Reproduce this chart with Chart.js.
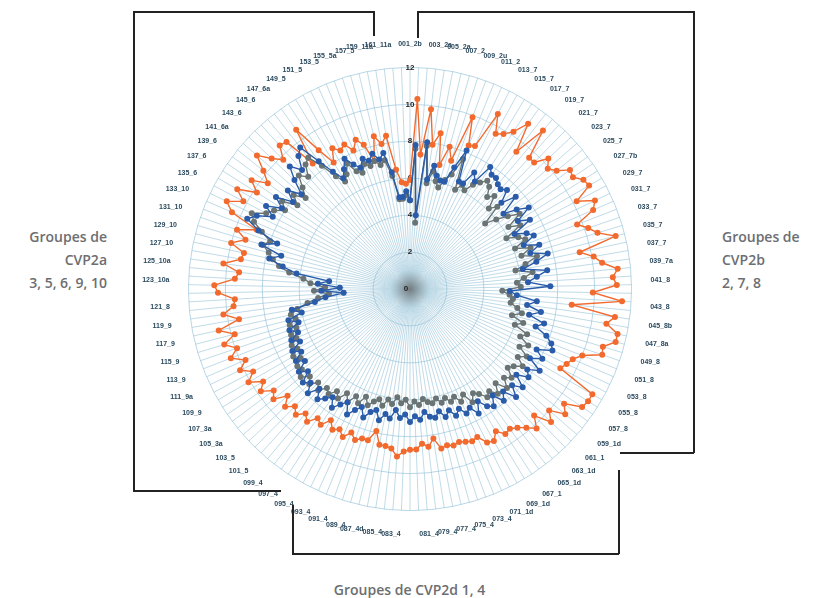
<!DOCTYPE html>
<html>
<head>
<meta charset="utf-8">
<script src="https://cdn.jsdelivr.net/npm/chart.js@4"></script>
<style>
  html, body { margin:0; padding:0; background:#fff; }
  body { width:819px; height:598px; position:relative; overflow:hidden; font-family:"Open Sans", sans-serif; }
  #wrap { position:absolute; left:110px; top:40px; width:600px; height:498px; }
  .ln { position:absolute; background:#222; }
  .txt { position:absolute; color:#6d6e71; font-size:14px; font-weight:600; line-height:23px; }
</style>
</head>
<body>
<div id="wrap"><canvas id="c" width="600" height="498"></canvas></div>

<!-- left bracket -->
<div class="ln" style="left:133px;top:11px;width:241px;height:1.5px"></div>
<div class="ln" style="left:373px;top:11px;width:1.5px;height:25px"></div>
<div class="ln" style="left:133px;top:11px;width:1.5px;height:480px"></div>
<div class="ln" style="left:133px;top:490px;width:148px;height:1.5px"></div>
<!-- right bracket -->
<div class="ln" style="left:417px;top:11px;width:277px;height:1.5px"></div>
<div class="ln" style="left:417px;top:11px;width:1.5px;height:27px"></div>
<div class="ln" style="left:693px;top:11px;width:1.5px;height:442px"></div>
<div class="ln" style="left:620px;top:452px;width:74px;height:1.5px"></div>
<!-- bottom bracket -->
<div class="ln" style="left:292px;top:505px;width:1.5px;height:49px"></div>
<div class="ln" style="left:292px;top:553px;width:327px;height:1.5px"></div>
<div class="ln" style="left:618px;top:470px;width:1.5px;height:84px"></div>

<div class="txt" style="right:712px;top:225px;text-align:right">Groupes de<br>CVP2a<br>3, 5, 6, 9, 10</div>
<div class="txt" style="left:722px;top:225px;text-align:left">Groupes de<br>CVP2b<br>2, 7, 8</div>
<div class="txt" style="left:0;width:819px;top:578px;text-align:center">Groupes de CVP2d 1, 4</div>

<script>
const categories = [
 "001_2b","003_2a","005_2a","007_2","009_2u","011_2","013_7","015_7","017_7","019_7",
 "021_7","023_7","025_7","027_7b","029_7","031_7","033_7","035_7","037_7","039_7a",
 "041_8","043_8","045_8b","047_8a","049_8","051_8","053_8","055_8","057_8","059_1d",
 "061_1","063_1d","065_1d","067_1","069_1d","071_1d","073_4","075_4","077_4","079_4",
 "081_4","083_4","085_4","087_4d","089_4","091_4","093_4","095_4","097_4","099_4",
 "101_5","103_5","105_3a","107_3a","109_9","111_9a","113_9","115_9","117_9","119_9",
 "121_8","123_10a","125_10a","127_10","129_10","131_10","133_10","135_6","137_6","139_6",
 "141_6a","143_6","145_6","147_6a","149_5","151_5","153_5","155_5a","157_5","159_11a",
 "161_11a"
];

const orangeValues = [
 5.9,10.3,7.3,9.8,7.9,8.6,6.9,8.0,7.3,9.9,
 8.4,8.5,10.6,9.6,9.8,10.2,11.0,9.4,11.2,9.6,
 9.6,10.3,9.9,10.2,10.8,10.7,11.1,11.2,10.2,11.1,
 10.8,9.7,10.2,10.6,11.5,9.4,10.1,10.5,11.3,11.0,
 11.2,9.9,11.5,8.8,11.2,10.8,11.5,11.5,10.9,11.0,
 10.0,9.6,9.4,9.2,11.4,11.4,11.3,10.4,10.8,10.0,
 10.5,9.6,10.2,9.8,9.5,9.3,9.4,9.0,9.4,9.3,
 8.8,8.9,8.8,8.7,8.8,8.7,8.8,8.2,8.6,8.4,
 8.7,8.7,8.8,9.1,8.7,8.6,8.6,7.9,8.5,8.5,
 8.7,8.4,8.8,8.5,8.7,8.3,8.8,8.6,9.1,8.8,
 9.2,8.9,9.3,8.8,9.5,9.2,9.8,9.4,10.1,9.6,
 10.2,9.7,10.4,9.9,10.5,9.8,10.6,9.4,10.2,9.6,
 9.5,10.4,10.6,9.5,9.3,10.2,9.3,9.2,10.0,9.3,
 9.9,8.9,10.5,11.0,10.2,10.8,9.8,10.4,9.6,10.2,
 11.0,10.3,9.8,10.5,10.4,8.6,10.6,9.0,8.0,8.7,
 8.4,8.6,8.1,8.6,8.2,7.2,8.5,8.0,8.4,6.5,
 5.8,5.7
];

const greyValues = [
 4.8,7.6,3.6,7.8,5.8,6.5,6.0,5.7,6.2,6.6,
 7.6,5.9,6.3,6.1,6.6,6.9,7.2,7.0,6.5,6.8,
 6.1,6.5,5.4,6.0,6.6,7.2,6.3,6.9,5.9,6.5,
 6.8,6.1,6.9,6.3,7.1,6.4,5.8,6.7,6.2,5.8,
 6.0,5.0,5.4,5.6,5.5,5.9,6.2,5.7,6.4,6.0,
 6.8,6.5,7.1,6.7,7.3,6.9,7.4,7.0,6.8,7.3,
 7.0,7.5,6.9,7.4,7.0,7.2,6.8,6.6,7.0,6.4,
 6.7,6.3,6.5,6.2,6.4,6.1,6.3,6.2,6.0,6.3,
 6.1,6.4,6.0,6.2,5.9,6.3,6.1,6.5,6.2,6.4,
 6.7,6.3,6.8,6.5,7.0,6.6,7.1,6.8,7.2,7.0,
 7.4,7.1,7.5,7.2,7.6,7.3,7.4,7.0,7.3,6.9,
 7.1,6.7,6.9,6.5,6.8,6.4,6.6,6.2,5.6,5.0,
 4.4,5.2,4.6,5.4,5.8,6.6,7.2,7.6,7.9,8.3,
 8.0,8.6,9.2,9.5,8.8,8.5,8.0,8.4,7.6,8.1,
 7.5,8.0,8.6,8.2,8.8,9.0,8.2,7.3,6.8,7.1,
 7.6,7.0,6.8,7.2,7.0,7.2,6.9,7.1,6.2,4.9,
 4.9,5.1
];

const blueValues = [
 4.8,7.8,4.0,8.0,6.0,6.8,6.3,6.1,6.1,7.0,
 8.1,6.4,6.4,7.2,6.8,7.9,7.6,7.6,7.4,7.3,
 7.5,6.8,7.6,6.5,7.2,7.8,6.9,7.5,6.4,7.0,
 7.3,6.6,7.4,6.8,7.7,7.0,6.2,7.5,6.9,6.4,
 7.6,5.4,5.8,6.9,6.4,7.2,6.6,7.5,7.1,7.8,
 8.2,8.4,7.6,8.1,7.5,8.3,7.7,8.0,7.4,8.1,
 7.6,8.2,7.5,7.9,7.3,7.8,7.6,7.1,7.7,7.2,
 7.4,7.0,7.3,6.9,7.2,6.8,7.1,7.0,6.7,7.1,
 6.9,7.2,6.8,7.0,6.6,7.1,6.9,7.3,6.8,7.0,
 7.4,6.9,7.2,7.6,7.0,7.3,7.7,7.2,7.5,7.8,
 7.3,7.9,7.4,7.7,7.1,7.5,6.9,7.3,6.8,7.2,
 6.6,7.0,6.5,6.9,6.3,6.8,6.0,6.5,5.2,4.6,
 3.6,4.8,3.8,5.0,4.4,6.2,7.0,7.8,7.2,8.4,
 7.6,8.8,9.6,9.2,8.4,9.0,8.2,8.8,7.9,8.5,
 7.8,8.6,9.3,8.7,9.4,9.7,8.5,7.6,7.0,7.4,
 7.9,7.4,7.1,7.5,7.3,7.6,7.2,7.5,6.4,5.0,
 5.0,5.3
];

const tickValues = [0, 2, 4, 6, 8, 10, 12];

// every category gets a spoke; only odd-numbered categories carry a label
const labels = categories.flatMap(n => [n, ""]);

const centerPlugin = {
  id: 'centerDeco',
  beforeDatasetsDraw(chart) {
    const s = chart.scales.r, ctx = chart.ctx;
    const g = ctx.createRadialGradient(s.xCenter, s.yCenter, 0, s.xCenter, s.yCenter, 20);
    g.addColorStop(0, 'rgba(110,110,110,0.85)');
    g.addColorStop(0.5, 'rgba(140,140,140,0.45)');
    g.addColorStop(1, 'rgba(170,170,170,0)');
    ctx.save(); ctx.fillStyle = g;
    ctx.beginPath(); ctx.arc(s.xCenter, s.yCenter, 20, 0, Math.PI*2); ctx.fill();
    ctx.font = 'bold 8px "Liberation Sans", sans-serif';
    ctx.fillStyle = '#222'; ctx.textAlign = 'center'; ctx.textBaseline = 'middle';
    ctx.fillText(String(tickValues[0]), s.xCenter - 4, s.yCenter);
    ctx.restore();
  }
};

new Chart(document.getElementById('c'), {
  type: 'radar',
  data: {
    labels: labels,
    datasets: [
      { label: 'Bleu', data: blueValues, borderColor: '#2a5caa', backgroundColor: '#2a5caa',
        pointBackgroundColor: '#2a5caa', pointBorderColor: '#2a5caa', borderWidth: 1.4, pointRadius: 2.3, fill: false },
      { label: 'Gris', data: greyValues, borderColor: '#6a7474', backgroundColor: '#6a7474',
        pointBackgroundColor: '#6a7474', pointBorderColor: '#6a7474', borderWidth: 1.4, pointRadius: 2.3, fill: false },
      { label: 'Orange', data: orangeValues, borderColor: '#f26a2e', backgroundColor: '#f26a2e',
        pointBackgroundColor: '#f26a2e', pointBorderColor: '#f26a2e', borderWidth: 1.4, pointRadius: 2.3, fill: false }
    ]
  },
  options: {
    responsive: false,
    animation: false,
    plugins: { legend: { display: false }, tooltip: { enabled: false } },
    elements: { line: { tension: 0 } },
    scales: {
      r: {
        min: tickValues[0], max: tickValues[tickValues.length-1],
        ticks: {
          stepSize: 2, showLabelBackdrop: false, color: '#222',
          font: { size: 8, weight: 'bold', family: '"Liberation Sans", sans-serif' },
          callback: v => tickValues.includes(v) ? String(v) : ''
        },
        grid: { circular: true, color: '#b9d7e6', lineWidth: 1 },
        angleLines: { color: 'rgba(150,195,215,0.75)', lineWidth: 0.8 },
        pointLabels: {
          padding: 13, color: '#2b4a5e',
          font: { size: 7, weight: 'bold', family: '"Liberation Sans Narrow", "Liberation Sans", sans-serif' }
        }
      }
    }
  },
  plugins: [centerPlugin]
});
</script>
</body>
</html>
